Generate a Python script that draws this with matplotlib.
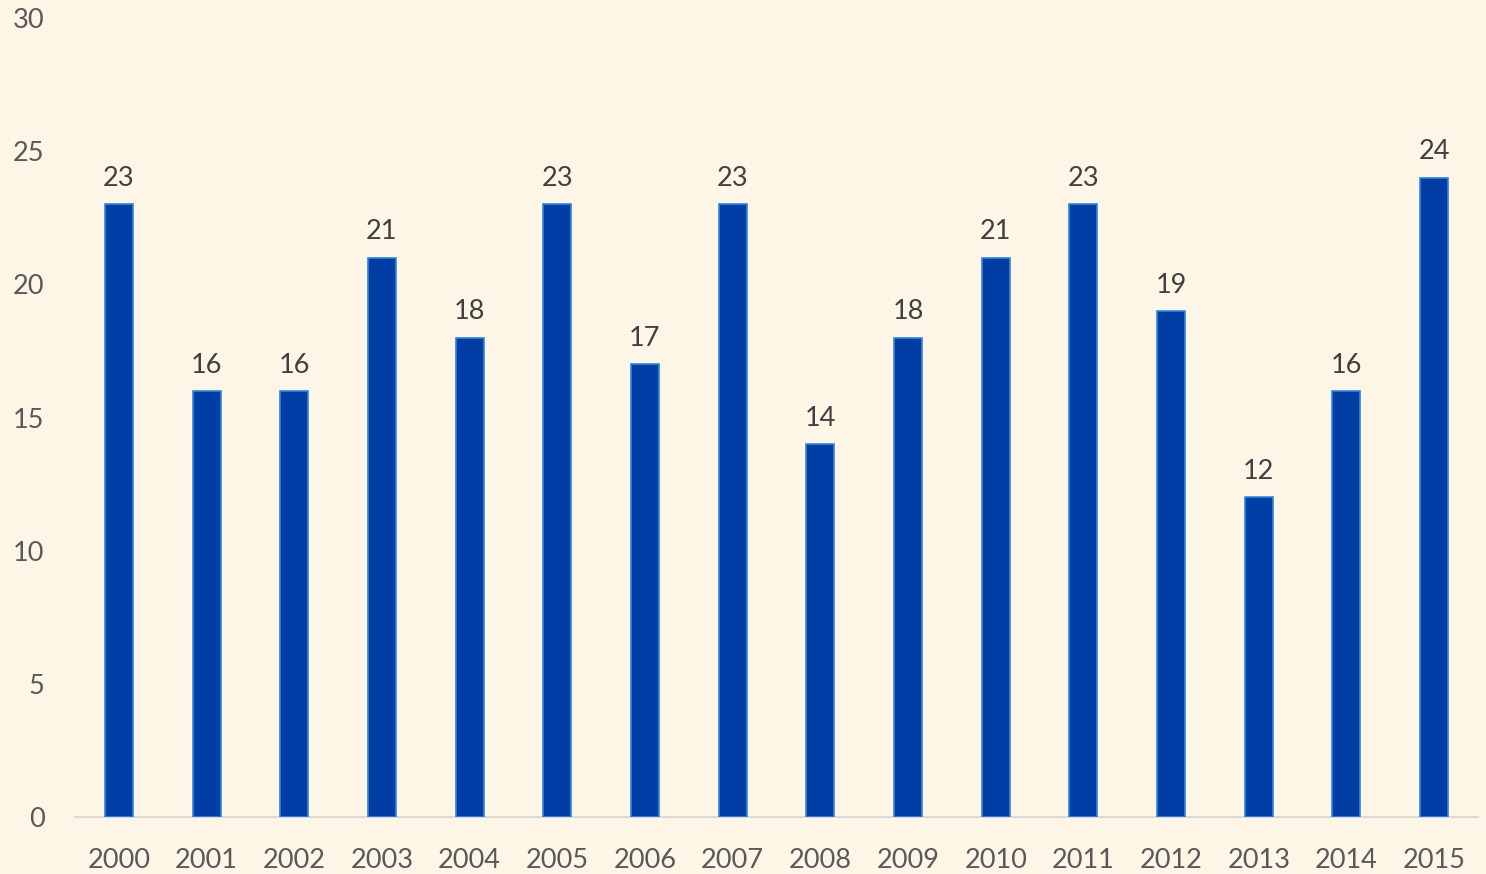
import matplotlib.pyplot as plt

years = ['2000', '2001', '2002', '2003', '2004', '2005', '2006', '2007',
         '2008', '2009', '2010', '2011', '2012', '2013', '2014', '2015']
values = [23, 16, 16, 21, 18, 23, 17, 23, 14, 18, 21, 23, 19, 12, 16, 24]

bg = '#FDF5E6'
plt.rcParams['font.family'] = ['Lato', 'DejaVu Sans']

fig = plt.figure(figsize=(14.86, 8.74), dpi=100, facecolor=bg)
ax = fig.add_axes([0.0505, 0.0652, 0.9441, 0.9142])
ax.set_facecolor(bg)

bars = ax.bar(range(len(years)), values, width=0.32,
              color='#003DA5', edgecolor='#2E86DE', linewidth=1.2, zorder=3)
for bar, v in zip(bars, values):
    ax.text(bar.get_x() + bar.get_width() / 2, v + 0.5, str(v),
            ha='center', va='bottom', fontsize=19.5, color='#404040')

ax.set_xlim(-0.5, len(years) - 0.5)
ax.set_ylim(0, 30)
ax.set_yticks(range(0, 31, 5))
ax.set_xticks(range(len(years)))
ax.set_xticklabels(years)

for s in ['top', 'right', 'left']:
    ax.spines[s].set_visible(False)
ax.spines['bottom'].set_color('#D9D9D9')
ax.spines['bottom'].set_linewidth(1.5)
ax.tick_params(axis='both', length=0, labelsize=19.5, labelcolor='#595959')
ax.tick_params(axis='x', pad=22)
ax.tick_params(axis='y', pad=22)

plt.savefig('out.png', dpi=100, facecolor=bg)
